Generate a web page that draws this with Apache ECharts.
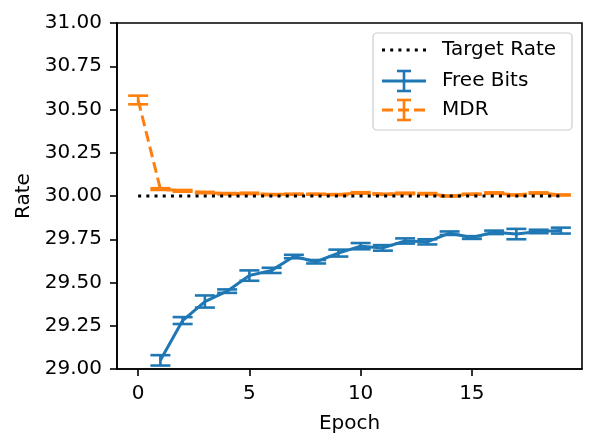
<!DOCTYPE html>
<html lang="en">
<head>
    <meta charset="UTF-8">
    <title>Rate vs Epoch</title>
    <script src="https://cdn.jsdelivr.net/npm/echarts@6.0.0/dist/echarts.min.js"></script>
</head>
<body style="margin:0; background:#fff;">
    <div id="main" style="width: 605px; height: 448px;"></div>
    <script>
        // data
        const epochs = [0, 1, 2, 3, 4, 5, 6, 7, 8, 9, 10, 11, 12, 13, 14, 15, 16, 17, 18, 19];
        const targetRate = [30, 30, 30, 30, 30, 30, 30, 30, 30, 30, 30, 30, 30, 30, 30, 30, 30, 30, 30, 30];

        const freeBitsEpochs = [1, 2, 3, 4, 5, 6, 7, 8, 9, 10, 11, 12, 13, 14, 15, 16, 17, 18, 19];
        const freeBitsMean = [29.05, 29.28, 29.39, 29.45, 29.54, 29.57, 29.65, 29.62, 29.67, 29.71,
                              29.70, 29.74, 29.735, 29.785, 29.76, 29.79, 29.78, 29.795, 29.80];
        const freeBitsErr = [0.03, 0.02, 0.035, 0.01, 0.03, 0.015, 0.01, 0.01, 0.02, 0.018,
                             0.016, 0.015, 0.015, 0.01, 0.008, 0.01, 0.03, 0.01, 0.017];

        const mdrMean = [30.555, 30.04, 30.03, 30.02, 30.013, 30.015, 30.008, 30.01, 30.01, 30.008,
                         30.018, 30.01, 30.015, 30.013, 30.0, 30.01, 30.017, 30.006, 30.017, 30.006];
        const mdrErr = [0.025, 0.005, 0.005, 0.004, 0.004, 0.004, 0.003, 0.003, 0.003, 0.003,
                        0.004, 0.003, 0.004, 0.004, 0.003, 0.003, 0.004, 0.003, 0.004, 0.003];

        const yTicks = [29, 29.25, 29.5, 29.75, 30, 30.25, 30.5, 30.75, 31];
        const xTicks = [0, 5, 10, 15];

        const BLUE = '#1f77b4';
        const ORANGE = '#ff7f0e';
        const FONT = 'DejaVu Sans';

        const chart = echarts.init(document.getElementById('main'));

        // error bar drawing: vertical line plus caps
        function errorBars(color) {
            return function (params, api) {
                const x = api.value(0);
                const lo = api.coord([x, api.value(1)]);
                const hi = api.coord([x, api.value(2)]);
                const cap = 10;
                const style = { stroke: color, lineWidth: 2.6 };
                return {
                    type: 'group',
                    children: [
                        { type: 'line', shape: { x1: lo[0], y1: lo[1], x2: hi[0], y2: hi[1] }, style: style },
                        { type: 'line', shape: { x1: lo[0] - cap, y1: lo[1], x2: lo[0] + cap, y2: lo[1] }, style: style },
                        { type: 'line', shape: { x1: hi[0] - cap, y1: hi[1], x2: hi[0] + cap, y2: hi[1] }, style: style }
                    ]
                };
            };
        }

        const fbLine = freeBitsEpochs.map((e, i) => [e, freeBitsMean[i]]);
        const fbErr = freeBitsEpochs.map((e, i) => [e, freeBitsMean[i] - freeBitsErr[i], freeBitsMean[i] + freeBitsErr[i]]);
        const mdrLine = epochs.map((e, i) => [e, mdrMean[i]]);
        const mdrErrData = epochs.map((e, i) => [e, mdrMean[i] - mdrErr[i], mdrMean[i] + mdrErr[i]]);
        const targetLine = epochs.map((e, i) => [e, targetRate[i]]);

        // legend drawn by hand to get matplotlib-like handles
        const lx = 382, lx2 = 426, lmid = 404;
        const legend = [
            { type: 'rect', shape: { x: 373, y: 33, width: 199, height: 97, r: 4 },
              style: { fill: 'rgba(255,255,255,0.8)', stroke: '#cccccc', lineWidth: 1.2 }, z: 10 },
            { type: 'line', shape: { x1: lx, y1: 50, x2: lx2, y2: 50 },
              style: { stroke: '#000', lineWidth: 3, lineDash: [3, 5.2] }, z: 11 },
            { type: 'text', style: { text: 'Target Rate', x: 442, y: 50, fill: '#000', font: '20px "DejaVu Sans"', verticalAlign: 'middle' }, z: 11 },
            { type: 'line', shape: { x1: lx, y1: 81, x2: lx2, y2: 81 }, style: { stroke: BLUE, lineWidth: 3 }, z: 11 },
            { type: 'line', shape: { x1: lmid, y1: 71, x2: lmid, y2: 91 }, style: { stroke: BLUE, lineWidth: 2.6 }, z: 11 },
            { type: 'line', shape: { x1: lmid - 7, y1: 71, x2: lmid + 7, y2: 71 }, style: { stroke: BLUE, lineWidth: 2.6 }, z: 11 },
            { type: 'line', shape: { x1: lmid - 7, y1: 91, x2: lmid + 7, y2: 91 }, style: { stroke: BLUE, lineWidth: 2.6 }, z: 11 },
            { type: 'text', style: { text: 'Free Bits', x: 442, y: 81, fill: '#000', font: '20px "DejaVu Sans"', verticalAlign: 'middle' }, z: 11 },
            { type: 'line', shape: { x1: lx, y1: 110, x2: lx2, y2: 110 }, style: { stroke: ORANGE, lineWidth: 3, lineDash: [11, 5] }, z: 11 },
            { type: 'line', shape: { x1: lmid, y1: 100, x2: lmid, y2: 120 }, style: { stroke: ORANGE, lineWidth: 2.6 }, z: 11 },
            { type: 'line', shape: { x1: lmid - 7, y1: 100, x2: lmid + 7, y2: 100 }, style: { stroke: ORANGE, lineWidth: 2.6 }, z: 11 },
            { type: 'line', shape: { x1: lmid - 7, y1: 120, x2: lmid + 7, y2: 120 }, style: { stroke: ORANGE, lineWidth: 2.6 }, z: 11 },
            { type: 'text', style: { text: 'MDR', x: 442, y: 110, fill: '#000', font: '20px "DejaVu Sans"', verticalAlign: 'middle' }, z: 11 }
        ];

        const option = {
            animation: false,
            backgroundColor: '#fff',
            textStyle: { fontFamily: FONT },
            grid: {
                left: 117, right: 23, top: 23, bottom: 79,
                show: true, borderColor: '#000', borderWidth: 1.6, backgroundColor: 'transparent'
            },
            xAxis: {
                type: 'value',
                min: -0.95,
                max: 19.95,
                name: 'Epoch',
                nameLocation: 'middle',
                nameGap: 45,
                nameTextStyle: { fontSize: 20, color: '#000', fontFamily: FONT },
                splitLine: { show: false },
                axisLine: { show: true, onZero: false, lineStyle: { color: '#000', width: 1.6 } },
                axisTick: { show: true, inside: false, length: 7, lineStyle: { color: '#000', width: 1.6 }, customValues: xTicks },
                axisLabel: { fontSize: 20, color: '#000', margin: 15, fontFamily: FONT, customValues: xTicks }
            },
            yAxis: {
                type: 'value',
                min: 29,
                max: 31,
                interval: 0.25,
                name: 'Rate',
                nameLocation: 'middle',
                nameGap: 80,
                nameRotate: 90,
                nameTextStyle: { fontSize: 20, color: '#000', fontFamily: FONT },
                splitLine: { show: false },
                axisLine: { show: true, onZero: false, lineStyle: { color: '#000', width: 1.6 } },
                axisTick: { show: true, inside: false, length: 7, lineStyle: { color: '#000', width: 1.6 } },
                axisLabel: {
                    fontSize: 20, color: '#000', margin: 15, fontFamily: FONT,
                    formatter: v => yTicks.some(t => Math.abs(t - v) < 1e-9) ? v.toFixed(2) : ''
                }
            },
            series: [
                {
                    name: 'Free Bits', type: 'line', data: fbLine, symbol: 'none',
                    lineStyle: { color: BLUE, width: 3 }, z: 2
                },
                {
                    name: 'Free Bits err', type: 'custom', data: fbErr, renderItem: errorBars(BLUE), z: 2
                },
                {
                    name: 'MDR', type: 'line', data: mdrLine, symbol: 'none',
                    lineStyle: { color: ORANGE, width: 3, type: [11, 5] }, z: 3
                },
                {
                    name: 'MDR err', type: 'custom', data: mdrErrData, renderItem: errorBars(ORANGE), z: 3
                },
                {
                    name: 'Target Rate', type: 'line', data: targetLine, symbol: 'none',
                    lineStyle: { color: '#000', width: 3, type: [3, 5.2] }, z: 4
                }
            ],
            graphic: legend
        };

        chart.setOption(option);
    </script>
</body>
</html>
